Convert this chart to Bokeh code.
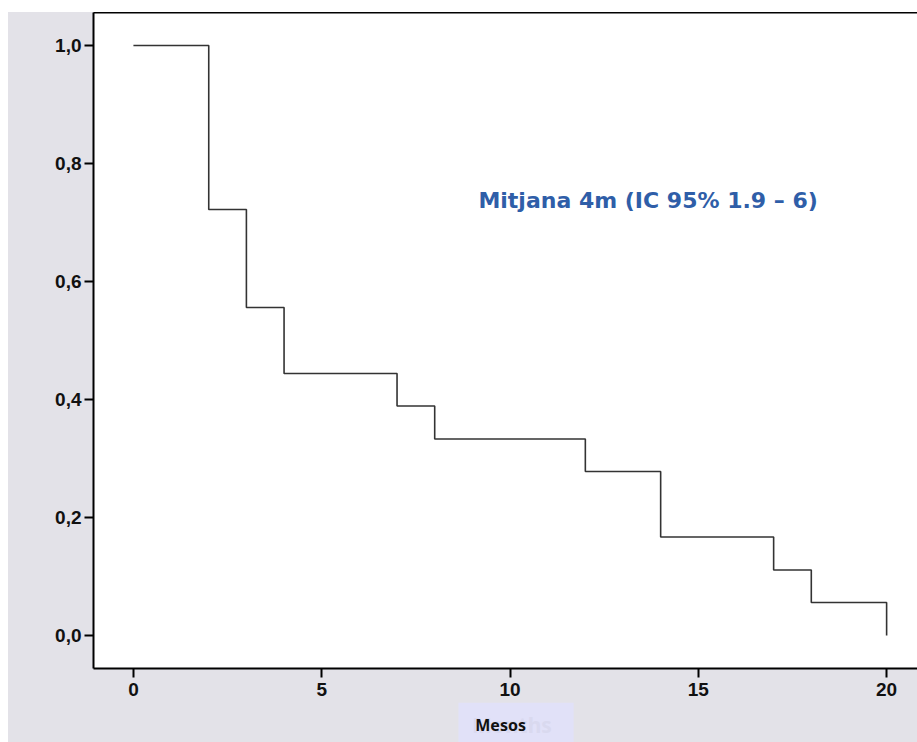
from bokeh.plotting import figure
from bokeh.models import (Range1d, FixedTicker, LinearAxis, Label, BoxAnnotation,
                          CustomJSTickFormatter, Spacer)
from bokeh.layouts import column, row
from bokeh.embed import file_html
from bokeh.resources import INLINE

# Kaplan-Meier data (months, survival)
times = [0, 2, 3, 4, 7, 8, 12, 14, 17, 18, 20]
survival = [1.0, 0.722, 0.556, 0.444, 0.389, 0.333, 0.278, 0.167, 0.111, 0.056, 0.0]
x_ticks = [0, 5, 10, 15, 20]
y_ticks = [0.0, 0.2, 0.4, 0.6, 0.8, 1.0]
annotation_text = "Mitjana 4m (IC 95% 1.9 \u2013 6)"
x_label = "Mesos"
ghost_label = "Months"

GREY = "#e3e2e8"
xr = Range1d(-1.06, 20.82)

p = figure(width=909, height=690, output_backend="svg", toolbar_location=None,
           x_range=xr, y_range=Range1d(-0.056, 1.056),
           x_axis_location=None, y_axis_location=None,
           min_border_left=85, min_border_right=0, min_border_top=0, min_border_bottom=34)
p.border_fill_color = GREY
p.background_fill_color = "white"
p.outline_line_color = None
p.xgrid.visible = False
p.ygrid.visible = False

def style_axis(ax):
    ax.axis_line_color = "black"
    ax.axis_line_width = 2
    ax.major_tick_line_color = "black"
    ax.major_tick_line_width = 2
    ax.minor_tick_line_color = None
    ax.major_tick_in = 0
    ax.major_label_text_font = "Liberation Sans"
    ax.major_label_text_font_style = "bold"
    ax.major_label_text_font_size = "19px"
    ax.major_label_text_color = "#111111"

yax = LinearAxis(ticker=FixedTicker(ticks=y_ticks),
                 formatter=CustomJSTickFormatter(code="return tick.toFixed(1).replace('.', ',');"))
style_axis(yax)
yax.major_tick_out = 9
yax.major_label_standoff = 3
p.add_layout(yax, "left")

xax = LinearAxis(ticker=FixedTicker(ticks=x_ticks))
style_axis(xax)
xax.major_tick_out = 9
xax.major_label_standoff = 5
p.add_layout(xax, "below")

top = LinearAxis(ticker=FixedTicker(ticks=[]))
top.axis_line_color = "black"
top.axis_line_width = 2
top.major_tick_line_color = None
top.minor_tick_line_color = None
top.major_tick_out = 0
top.major_tick_in = 0
top.major_label_text_font_size = "0px"
top.major_label_standoff = 0
p.add_layout(top, "above")

p.step(times, survival, mode="after", line_color="#333333", line_width=1.6)

p.add_layout(Label(x=9.16, y=0.737, text=annotation_text, text_font="DejaVu Sans",
                   text_font_style="bold", text_font_size="22px", text_color="#2f5ea8",
                   text_baseline="middle", text_align="left"))

# bottom strip carrying the x-axis title box
b = figure(width=909, height=40, output_backend="svg", toolbar_location=None,
           x_range=xr, y_range=Range1d(0, 1),
           x_axis_location=None, y_axis_location=None,
           min_border_left=85, min_border_right=0, min_border_top=0, min_border_bottom=0)
b.border_fill_alpha = 0
b.background_fill_alpha = 0
b.outline_line_color = None
b.xgrid.visible = False
b.ygrid.visible = False
b.add_layout(BoxAnnotation(left=8.63, right=11.69, top=1, bottom=0,
                           fill_color="#e1e1f8", fill_alpha=1, line_color=None))
b.add_layout(Label(x=10.05, y=0.45, text=ghost_label, text_font="Noto Sans",
                   text_font_style="bold", text_font_size="21px", text_color="#d9d9ef",
                   text_baseline="middle", text_align="center"))
b.add_layout(Label(x=9.75, y=0.45, text=x_label, text_font="Noto Sans",
                   text_font_style="bold", text_font_size="16px", text_color="#111111",
                   text_baseline="middle", text_align="center"))

inner = column(p, b, styles={"background-color": GREY})
layout = column(Spacer(height=12, width=917),
                row(Spacer(width=8, height=730), inner))

open("out.html", "w").write(file_html(layout, INLINE))
